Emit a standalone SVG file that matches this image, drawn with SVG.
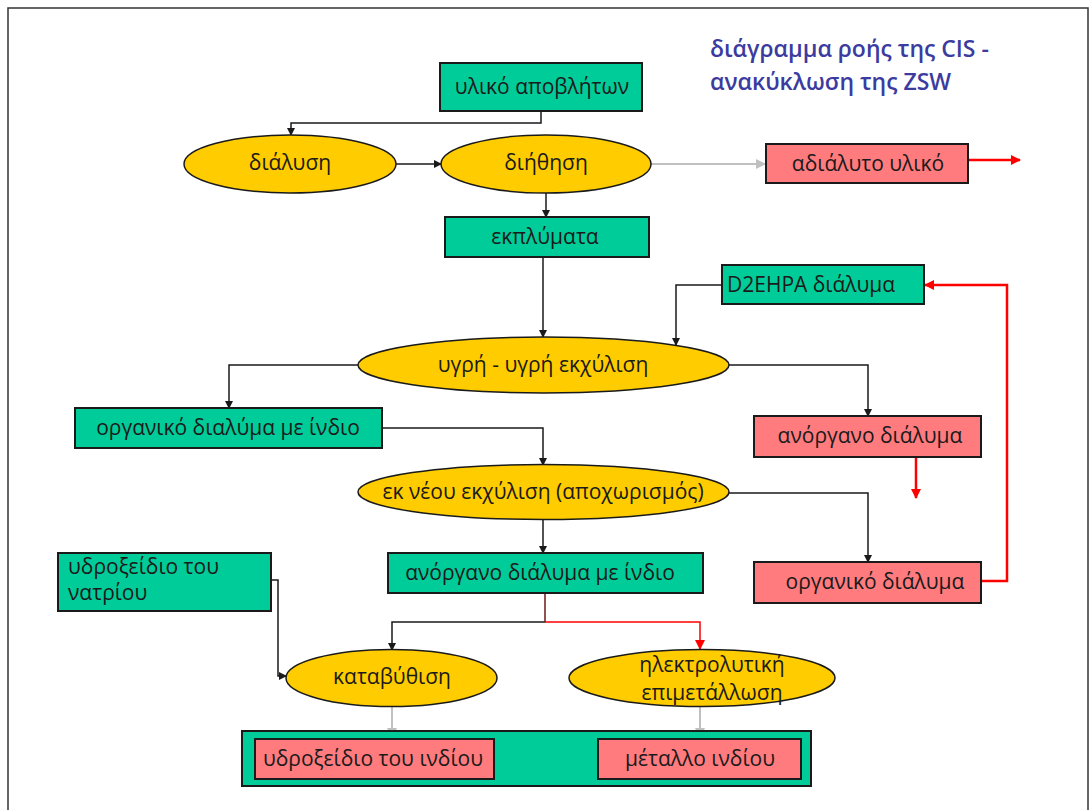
<svg xmlns="http://www.w3.org/2000/svg" width="1091" height="810" viewBox="0 0 1091 810">
<style>
  .g{fill:#00cc99;stroke:#1a1a1a;stroke-width:2}
  .p{fill:#ff7b7e;stroke:#1a1a1a;stroke-width:2}
  .y{fill:#ffcc00;stroke:#1a1a1a;stroke-width:1.5}
  .t{font-family:"Open Sans","Liberation Sans",Arial,sans-serif;font-size:21px;fill:#1a1a1a}
  .c{text-anchor:middle;dominant-baseline:central}
  .k{fill:none;stroke:#1a1a1a;stroke-width:1.5}
  .gr{fill:none;stroke:#c0c0c0;stroke-width:2}
  .r{fill:none;stroke:#ff0000;stroke-width:2.5}
  .title{font-family:"Open Sans","Liberation Sans",Arial,sans-serif;font-size:23px;font-weight:600;fill:#3b3ba0}
</style>
<defs>
  <marker id="ak" markerWidth="8" markerHeight="8" refX="7" refY="4" orient="auto" markerUnits="userSpaceOnUse"><path d="M0,0 L8,4 L0,8 z" fill="#1a1a1a"/></marker>
  <marker id="ag" markerWidth="10" markerHeight="10" refX="9" refY="5" orient="auto" markerUnits="userSpaceOnUse"><path d="M0,0 L10,5 L0,10 z" fill="#c0c0c0"/></marker>
  <marker id="ar" markerWidth="10" markerHeight="10" refX="9" refY="5" orient="auto" markerUnits="userSpaceOnUse"><path d="M0,0 L10,5 L0,10 z" fill="#ff0000"/></marker>
</defs>
<rect x="0" y="0" width="1091" height="810" fill="#ffffff"/>
<rect x="8" y="8" width="1080" height="820" fill="none" stroke="#333" stroke-width="1.5"/>
<g id="title">
  <text class="title" x="710" y="57">διάγραμμα ροής της CIS -</text>
  <text class="title" x="710" y="90">ανακύκλωση της ZSW</text>
</g>
<g id="connectors">
  <path class="k" d="M541,111 V123 H291 V135" marker-end="url(#ak)"/>
  <path class="k" d="M396,164 H441" marker-end="url(#ak)"/>
  <path class="gr" d="M651,164 H765" marker-end="url(#ag)"/>
  <path class="r" d="M968,160 H1020" marker-end="url(#ar)"/>
  <path class="k" d="M546,193 V217" marker-end="url(#ak)"/>
  <path class="k" d="M543,257 V337" marker-end="url(#ak)"/>
  <path class="k" d="M722,285 H676 V345" marker-end="url(#ak)"/>
  <path class="k" d="M358,365 H229 V408" marker-end="url(#ak)"/>
  <path class="k" d="M729,365 H868 V416" marker-end="url(#ak)"/>
  <path class="k" d="M382,428 H543 V465" marker-end="url(#ak)"/>
  <path class="r" d="M916,457 V498" marker-end="url(#ar)"/>
  <path class="k" d="M729,493 H868 V562" marker-end="url(#ak)"/>
  <path class="r" d="M981,581 H1007 V285 H925" marker-end="url(#ar)"/>
  <path class="k" d="M543,520 V553" marker-end="url(#ak)"/>
  <path class="k" d="M545,622 H392 V650" marker-end="url(#ak)"/>
  <path fill="none" stroke="#ff0000" stroke-width="1.5" d="M545,622 H700 V649" marker-end="url(#ar)"/>
  <path fill="none" stroke="#6b1a1a" stroke-width="1.5" d="M545,593 V622"/>
  <path class="k" d="M271,580 H278 V676 H286" marker-end="url(#ak)"/>
  <path class="gr" d="M392,707 V737" marker-end="url(#ag)"/>
  <path class="gr" d="M700,707 V737" marker-end="url(#ag)"/>
</g>
<g id="n_waste"><rect class="g" x="440" y="63" width="202" height="48"/><text class="t c" x="542" y="86">υλικό αποβλήτων</text></g>
<g id="n_dissolution"><ellipse class="y" cx="290" cy="164" rx="106" ry="29"/><text class="t c" x="290" y="162">διάλυση</text></g>
<g id="n_filtration"><ellipse class="y" cx="546" cy="164" rx="105" ry="29"/><text class="t c" x="546" y="162">διήθηση</text></g>
<g id="n_insoluble"><rect class="p" x="766" y="144" width="202" height="39"/><text class="t c" x="868" y="163">αδιάλυτο υλικό</text></g>
<g id="n_leachate"><rect class="g" x="445" y="217" width="204" height="40"/><text class="t c" x="545" y="236">εκπλύματα</text></g>
<g id="n_d2ehpa"><rect class="g" x="722" y="265" width="202" height="39"/><text class="t" x="727" y="284" dominant-baseline="central">D2EHPA διάλυμα</text></g>
<g id="n_lle"><ellipse class="y" cx="543.5" cy="365" rx="185.5" ry="28"/><text class="t c" x="543" y="364">υγρή - υγρή εκχύλιση</text></g>
<g id="n_org_in"><rect class="g" x="75" y="408" width="307" height="40"/><text class="t c" x="228" y="427">οργανικό διαλύμα με ίνδιο</text></g>
<g id="n_inorg"><rect class="p" x="754" y="416" width="227" height="41"/><text class="t c" x="870" y="435">ανόργανο διάλυμα</text></g>
<g id="n_strip"><ellipse class="y" cx="543.5" cy="492" rx="185.5" ry="27.5"/><text class="t c" x="543" y="491">εκ νέου εκχύλιση (αποχωρισμός)</text></g>
<g id="n_org"><rect class="p" x="754" y="562" width="227" height="41"/><text class="t c" x="875" y="581">οργανικό διάλυμα</text></g>
<g id="n_naoh"><rect class="g" x="58" y="553" width="213" height="58"/><text class="t" x="68" y="566" dominant-baseline="central">υδροξείδιο του</text><text class="t" x="68" y="592" dominant-baseline="central">νατρίου</text></g>
<g id="n_inorg_in"><rect class="g" x="388" y="553" width="315" height="40"/><text class="t c" x="540" y="572">ανόργανο διάλυμα με ίνδιο</text></g>
<g id="n_precip"><ellipse class="y" cx="391.5" cy="678" rx="105.5" ry="28.5"/><text class="t c" x="392" y="676">καταβύθιση</text></g>
<g id="n_electro"><ellipse class="y" cx="702" cy="678" rx="133" ry="28.5"/><text class="t c" x="712" y="664">ηλεκτρολυτική</text><text class="t c" x="712" y="692">επιμετάλλωση</text></g>
<g id="n_products"><rect class="g" x="242" y="731" width="569" height="55"/></g>
<g id="n_inoh"><rect class="p" x="255" y="739" width="239" height="40"/><text class="t c" x="373" y="758">υδροξείδιο του ινδίου</text></g>
<g id="n_inmetal"><rect class="p" x="598" y="739" width="203" height="40"/><text class="t c" x="700" y="758">μέταλλο ινδίου</text></g>
</svg>
